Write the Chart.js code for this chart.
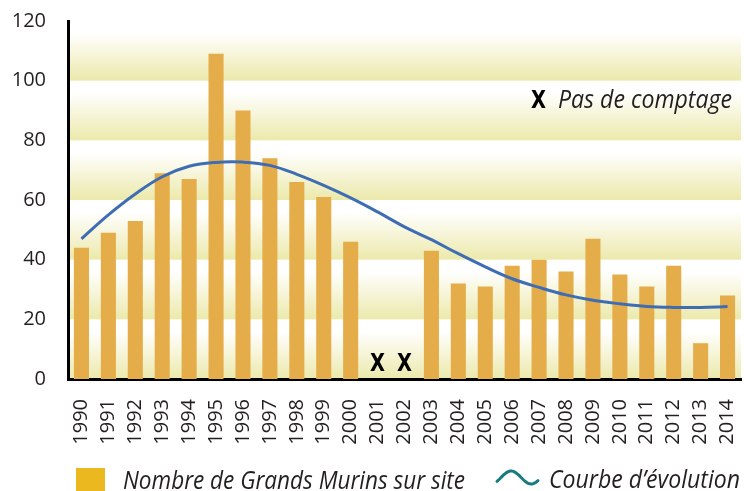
<!DOCTYPE html>
<html>
<head>
<meta charset="utf-8">
<script src="https://cdn.jsdelivr.net/npm/chart.js@4/dist/chart.umd.min.js"></script>
<style>
html,body{margin:0;padding:0;background:#fff;}
#wrap{width:744px;height:491px;position:relative;}
</style>
</head>
<body>
<div id="wrap"><canvas id="c" width="744" height="491"></canvas></div>
<script>
// ---- data ----
const years = ['1990','1991','1992','1993','1994','1995','1996','1997','1998','1999','2000','2001','2002','2003','2004','2005','2006','2007','2008','2009','2010','2011','2012','2013','2014'];
const counts = [44,49,53,69,67,109,90,74,66,61,46,null,null,43,32,31,38,40,36,47,35,31,38,12,28];
const trend = [47,55,62,67.8,71.3,72.6,72.7,71.6,68.6,64.9,60.7,56,51,46.7,42,37.6,33.6,30.7,28.2,26.4,25.2,24.3,24,24,24.3];
const noCountYears = ['2001','2002'];
const yTicks = [0,20,40,60,80,100,120];
const barLabel = 'Nombre de Grands Murins sur site';
const lineLabel = 'Courbe d’évolution';
const noteLabel = 'Pas de comptage';
const noCountMark = 'X';

// ---- styles ----
const TEXT = '#231f20';
const BAR = '#e4ad4a';
const LEGEND_SQ = '#ebb820';
const LINE = '#3f6db3';
const WAVE = '#177b80';
const BAND = '#ece9ab';
const MARK_LEVEL = 5.7;

function drawFitted(ctx, text, x, baseline, width, font) {
  ctx.save();
  ctx.font = font;
  const w = ctx.measureText(text).width;
  ctx.translate(x, baseline);
  ctx.scale(width / w, 1);
  ctx.textAlign = 'left';
  ctx.textBaseline = 'alphabetic';
  ctx.fillText(text, 0, 0);
  ctx.restore();
}

const bandsPlugin = {
  id: 'bands',
  beforeDraw(chart) {
    const {ctx, chartArea, scales: {y}} = chart;
    ctx.save();
    for (let i = 0; i < yTicks.length - 1; i++) {
      const top = y.getPixelForValue(yTicks[i + 1]);
      const bot = y.getPixelForValue(yTicks[i]);
      const g = ctx.createLinearGradient(0, top, 0, bot);
      g.addColorStop(0, '#ffffff');
      g.addColorStop(0.2, '#ffffff');
      g.addColorStop(1, BAND);
      ctx.fillStyle = g;
      ctx.fillRect(chartArea.left, top, chartArea.right - chartArea.left, bot - top);
    }
    ctx.restore();
  }
};

const marksPlugin = {
  id: 'marks',
  afterDraw(chart) {
    const {ctx, scales: {x, y}} = chart;
    ctx.save();
    ctx.fillStyle = '#000';
    const markFont = 'bold 25px "DejaVu Sans"';
    noCountYears.forEach(yr => {
      const px = x.getPixelForValue(years.indexOf(yr));
      const py = y.getPixelForValue(MARK_LEVEL);
      drawFitted(ctx, noCountMark, px - 7.5, py + 9, 15, markFont);
    });
    drawFitted(ctx, noCountMark, 531, 108, 15, markFont);
    ctx.fillStyle = TEXT;
    drawFitted(ctx, noteLabel, 558, 108, 174, 'italic 25px "Open Sans"');

    // legend
    ctx.fillStyle = LEGEND_SQ;
    ctx.fillRect(76, 468, 29, 26);
    ctx.fillStyle = TEXT;
    drawFitted(ctx, barLabel, 123, 489, 342, 'italic 26px "Open Sans"');
    ctx.strokeStyle = WAVE;
    ctx.lineWidth = 3;
    ctx.lineCap = 'round';
    ctx.beginPath();
    const x0 = 497, x1 = 538, t0 = -0.1, t1 = 0.92, cy = 477.5, amp = 6.5;
    for (let i = 0; i <= 40; i++) {
      const t = t0 + (t1 - t0) * i / 40;
      const px = x0 + (x1 - x0) * i / 40;
      const py = cy - amp * Math.sin(2 * Math.PI * t);
      if (i === 0) ctx.moveTo(px, py); else ctx.lineTo(px, py);
    }
    ctx.stroke();
    ctx.fillStyle = TEXT;
    drawFitted(ctx, lineLabel, 549, 488, 191, 'italic 26px "Open Sans"');
    ctx.restore();
  }
};

new Chart(document.getElementById('c'), {
  data: {
    labels: years,
    datasets: [
      {
        type: 'line',
        label: lineLabel,
        data: trend,
        borderColor: LINE,
        borderWidth: 3,
        pointRadius: 0,
        tension: 0.4,
        fill: false,
        order: 0
      },
      {
        type: 'bar',
        label: barLabel,
        data: counts,
        backgroundColor: BAR,
        barPercentage: 0.56,
        categoryPercentage: 1,
        order: 1
      }
    ]
  },
  plugins: [bandsPlugin, marksPlugin],
  options: {
    responsive: false,
    animation: false,
    events: [],
    layout: {padding: {left: 12, right: 3, top: 21, bottom: 46}},
    plugins: {legend: {display: false}, tooltip: {enabled: false}},
    scales: {
      x: {
        grid: {display: false, drawTicks: false},
        border: {display: true, color: '#000', width: 3},
        ticks: {
          color: TEXT,
          font: {family: 'Open Sans', size: 20},
          minRotation: 90, maxRotation: 90,
          padding: 20,
          autoSkip: false
        },
        afterFit(s) { s.paddingLeft = 0; s.paddingRight = 0; s.paddingTop = 0; s.paddingBottom = 0; s.height = 66; }
      },
      y: {
        min: 0, max: 120,
        afterBuildTicks(axis) { axis.ticks = yTicks.map(v => ({value: v})); },
        grid: {display: false, drawTicks: false},
        border: {display: true, color: '#000', width: 3},
        ticks: {
          color: TEXT,
          font: {family: 'Open Sans', size: 20},
          padding: 22
        },
        afterFit(s) { s.paddingLeft = 0; s.paddingRight = 0; s.paddingTop = 0; s.paddingBottom = 0; s.width = 56; }
      }
    }
  }
});
</script>
</body>
</html>
